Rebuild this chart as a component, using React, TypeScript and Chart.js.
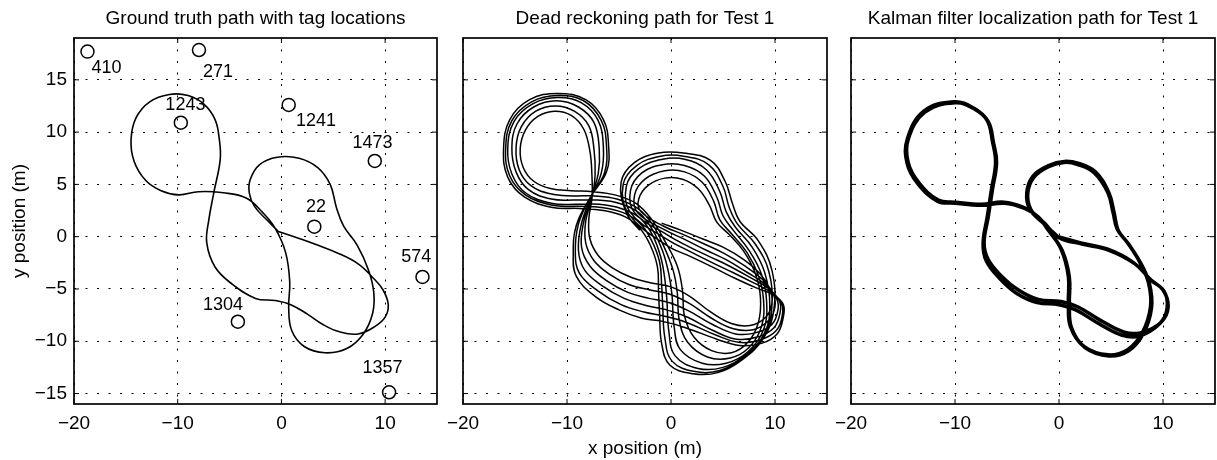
import { useEffect, useRef } from "react";
import { Chart, registerables } from "chart.js";

Chart.register(...registerables);

// ---------- axes ----------
const X_MIN = -20;
const X_MAX = 15;
const Y_MIN = -16;
const Y_MAX = 19;
const X_TICKS = [-20, -10, 0, 10];
const Y_TICKS = [-15, -10, -5, 0, 5, 10, 15];

const TITLES = [
  "Ground truth path with tag locations",
  "Dead reckoning path for Test 1",
  "Kalman filter localization path for Test 1",
];
const X_LABEL = "x position (m)";
const Y_LABEL = "y position (m)";

// ---------- tags (panel 1) ----------
const TAG_IDS = ["410", "271", "1243", "1241", "1473", "22", "574", "1304", "1357"];
const TAG_X = [-18.7, -7.95, -9.7, 0.7, 9.0, 3.17, 13.6, -4.2, 10.38];
const TAG_Y = [17.7, 17.85, 10.9, 12.6, 7.24, 0.96, -3.85, -8.13, -14.88];
const TAG_LABEL_X = [-16.86, -6.12, -9.26, 3.34, 8.78, 3.34, 13.0, -5.64, 9.74];
const TAG_LABEL_Y = [16.1, 15.78, 12.6, 11.1, 8.93, 2.81, -1.9, -6.53, -12.53];

// ---------- ground truth path ----------
const TRUTH_PATH: number[][] = [
  [-0.3, 0.5], [1.5, -0.1], [3.2, -0.7], [5.5, -1.6], [7.4, -2.6], [8.8, -3.9], [9.8, -5.1],
  [10.3, -6.5], [10.0, -7.7], [9.0, -8.6], [7.4, -9.3], [5.6, -9.1], [4.0, -8.4], [2.5, -7.4],
  [0.9, -6.5], [-0.6, -6.1], [-2.5, -5.9], [-4.8, -4.5], [-6.4, -2.9], [-7.2, -0.6], [-7.0, 1.6],
  [-6.5, 4.3], [-5.9, 7.4], [-6.0, 9.4], [-6.4, 11.2], [-7.5, 12.7], [-9.0, 13.5], [-10.8, 13.6],
  [-12.7, 12.9], [-14.0, 11.4], [-14.5, 9.3], [-14.2, 7.2], [-13.1, 5.4], [-11.6, 4.4], [-9.9, 4.0],
  [-8.0, 4.3], [-5.6, 4.2], [-3.4, 3.7], [-1.8, 2.3], [-0.6, 0.8], [0.4, -1.5], [0.8, -4.3],
  [0.7, -6.8], [1.0, -9.0], [2.2, -10.5], [4.2, -11.1], [6.3, -10.7], [7.9, -9.3], [8.8, -7.3],
  [8.9, -5.3], [8.4, -3.2], [7.3, -0.8], [6.0, 1.0], [5.3, 2.8], [4.7, 5.0], [3.5, 6.6],
  [1.7, 7.5], [-0.4, 7.6], [-2.1, 6.9], [-3.0, 5.5], [-3.1, 4.2], [-2.6, 2.9], [-1.3, 1.5],
  [-0.3, 0.5],
];

// ---------- dead reckoning laps ----------
const DR_LAP_1: number[][] = [
  [-0.9, 1.3], [1.0, 0.6], [3.0, -0.2], [5.0, -1.0], [7.0, -2.2], [8.6, -3.6], [9.5, -5.0], [9.7, -6.4],
  [9.1, -7.7], [7.6, -8.5], [5.8, -8.3], [3.8, -7.2], [1.8, -5.7], [0.0, -4.8],
  [-2.0, -4.4], [-3.8, -3.9], [-5.6, -3.0], [-7.0, -1.8],
  [-7.8, -0.2], [-7.9, 1.7], [-7.6, 3.7],
  [-7.6, 5.8], [-7.8, 8.2], [-8.4, 10.3], [-9.6, 11.6], [-11.2, 12.0], [-12.8, 11.5], [-14.0, 10.2],
  [-14.5, 8.4], [-14.2, 6.6], [-13.2, 5.3], [-11.6, 4.6], [-9.6, 4.4],
  [-7.5, 4.3], [-5.4, 4.0], [-3.4, 3.2], [-1.9, 1.7],
  [-0.6, -0.4], [0.6, -2.8], [1.1, -5.1], [1.3, -7.6], [2.2, -9.6], [3.9, -10.9], [5.8, -11.1], [7.4, -10.1], [8.4, -8.2],
  [8.6, -5.8], [8.1, -3.5], [7.0, -1.4], [5.6, 0.2], [4.4, 1.4],
  [3.7, 3.0], [2.6, 4.6], [1.1, 5.5], [-0.6, 5.6], [-2.2, 4.9], [-3.1, 3.6], [-2.9, 2.4],
];
const DR_LAP_2: number[][] = [
  [-0.7, 1.0], [1.2, 0.2], [3.2, -0.7], [5.1, -1.6], [7.1, -2.8], [8.8, -4.1], [9.8, -5.4], [10.0, -6.7],
  [9.4, -8.0], [7.9, -8.9], [6.0, -8.8], [3.9, -7.8], [1.8, -6.4], [-0.1, -5.5],
  [-2.0, -5.1], [-4.0, -4.6], [-5.9, -3.6], [-7.4, -2.3],
  [-8.2, -0.6], [-8.2, 1.5], [-7.6, 3.7],
  [-7.3, 5.9], [-7.4, 8.3], [-7.9, 10.6], [-9.3, 12.0], [-11.1, 12.5], [-13.0, 12.0], [-14.4, 10.5],
  [-14.9, 8.5], [-14.6, 6.4], [-13.5, 4.9], [-11.6, 4.1], [-9.4, 3.9],
  [-7.4, 3.9], [-5.2, 3.6], [-3.2, 2.7], [-1.8, 1.2],
  [-0.7, -0.9], [0.2, -3.2], [0.6, -5.3], [0.8, -8.0], [1.6, -10.1], [3.5, -11.5], [5.7, -11.6], [7.5, -10.6], [8.7, -8.6],
  [8.9, -6.1], [8.4, -3.7], [7.3, -1.5], [5.8, 0.3], [4.7, 1.6],
  [4.1, 3.4], [3.0, 5.2], [1.3, 6.2], [-0.6, 6.3], [-2.5, 5.5], [-3.5, 4.0], [-3.2, 2.3],
];
const DR_LAP_3: number[][] = [
  [-0.5, 0.6], [1.4, -0.3], [3.4, -1.3], [5.3, -2.2], [7.3, -3.4], [9.0, -4.5], [10.1, -5.8], [10.3, -6.9],
  [9.7, -8.4], [8.1, -9.2], [6.2, -9.3], [4.0, -8.4], [1.7, -7.1], [-0.2, -6.3],
  [-2.1, -5.9], [-4.2, -5.3], [-6.2, -4.2], [-7.8, -2.8],
  [-8.6, -1.0], [-8.4, 1.4], [-7.7, 3.7],
  [-7.0, 6.0], [-6.9, 8.4], [-7.4, 10.9], [-8.9, 12.4], [-11.0, 13.0], [-13.2, 12.4], [-14.8, 10.8],
  [-15.3, 8.5], [-14.9, 6.2], [-13.7, 4.5], [-11.5, 3.6], [-9.2, 3.5],
  [-7.1, 3.5], [-5.0, 3.2], [-3.1, 2.3], [-1.8, 0.7],
  [-0.8, -1.4], [-0.2, -3.6], [0.1, -5.6], [0.3, -8.6], [0.9, -10.8], [3.0, -12.1], [5.3, -12.1], [7.4, -11.0], [8.9, -8.9],
  [9.2, -6.3], [8.7, -3.6], [7.5, -1.3], [6.0, 0.6], [5.0, 2.0],
  [4.4, 3.8], [3.2, 5.8], [1.3, 6.8], [-0.7, 6.9], [-2.8, 6.1], [-3.9, 4.4], [-3.5, 2.3],
];
const DR_LAP_4: number[][] = [
  [-0.4, 0.2], [1.6, -0.9], [3.7, -1.9], [5.6, -2.8], [7.6, -3.9], [9.3, -4.9], [10.4, -6.1], [10.5, -7.2],
  [9.9, -8.7], [8.3, -9.6], [6.3, -9.8], [4.1, -9.0], [1.6, -7.7], [-0.4, -7.0],
  [-2.3, -6.6], [-4.5, -5.9], [-6.6, -4.7], [-8.3, -3.2],
  [-8.9, -1.3], [-8.6, 1.3], [-7.7, 3.7],
  [-6.7, 6.1], [-6.5, 8.5], [-7.0, 11.1], [-8.6, 12.8], [-10.9, 13.3], [-13.3, 12.7], [-15.1, 11.0],
  [-15.7, 8.4], [-15.3, 6.0], [-14.0, 4.2], [-11.5, 3.2], [-9.0, 3.1],
  [-6.9, 3.1], [-4.8, 2.7], [-3.0, 1.8], [-1.8, 0.2],
  [-1.0, -1.9], [-0.6, -4.0], [-0.4, -6.0], [-0.2, -9.1], [0.4, -11.4], [2.6, -12.6], [5.0, -12.5], [7.2, -11.3], [9.0, -9.2],
  [9.5, -6.5], [9.0, -3.4], [7.8, -1.0], [6.2, 0.9], [5.3, 2.4],
  [4.7, 4.3], [3.4, 6.4], [1.3, 7.4], [-0.8, 7.4], [-3.1, 6.5], [-4.3, 4.8], [-3.9, 2.3],
];
const DR_LAP_5: number[][] = [
  [-0.3, -0.3], [1.8, -1.4], [4.0, -2.5], [5.9, -3.4], [7.9, -4.4], [9.6, -5.3], [10.6, -6.3], [10.7, -7.5],
  [10.1, -9.0], [8.5, -9.9], [6.5, -10.1], [4.3, -9.4], [1.5, -8.2], [-0.6, -7.6],
  [-2.6, -7.2], [-4.8, -6.5], [-7.0, -5.2], [-8.8, -3.5],
  [-9.2, -1.5], [-8.9, 1.2], [-7.8, 3.7],
  [-6.4, 6.1], [-6.2, 8.6], [-6.7, 11.1], [-8.4, 13.0], [-10.9, 13.5], [-13.4, 12.9], [-15.3, 11.1],
  [-15.9, 8.4], [-15.5, 5.8], [-14.0, 4.0], [-11.4, 3.0], [-8.9, 2.9],
  [-6.7, 2.8], [-4.6, 2.3], [-3.0, 1.3], [-1.9, -0.3],
  [-1.1, -2.4], [-0.9, -4.6], [-0.8, -6.6], [-0.6, -9.6], [0.1, -11.9], [2.3, -12.9], [4.7, -12.8], [7.0, -11.5], [9.0, -9.4],
  [9.7, -6.7], [9.4, -3.3], [8.1, -0.7], [6.4, 1.2], [5.6, 2.8],
  [5.0, 4.8], [3.6, 6.9], [1.2, 7.7], [-1.0, 7.7], [-3.3, 6.8], [-4.6, 5.0], [-4.1, 2.2],
];
const DR_LAP_6: number[][] = [
  [-0.3, -0.9], [1.9, -1.9], [4.2, -3.0], [6.2, -4.0], [8.2, -4.9], [9.9, -5.6], [10.8, -6.5], [10.8, -7.7],
  [10.2, -9.3], [8.7, -10.2], [6.6, -10.4], [4.4, -9.8], [1.4, -8.7], [-0.8, -8.1],
  [-2.8, -7.8], [-5.0, -7.0], [-7.3, -5.7], [-9.1, -3.8],
  [-9.4, -1.7], [-9.1, 1.1], [-7.8, 3.7],
  [-6.2, 6.2], [-6.0, 8.7], [-6.5, 11.2], [-8.2, 13.1], [-10.9, 13.7], [-13.6, 13.1], [-15.5, 11.2],
  [-16.1, 8.4], [-15.7, 5.7], [-14.1, 3.8], [-11.4, 2.8], [-8.8, 2.7],
  [-6.5, 2.5], [-4.4, 1.9], [-3.0, 0.8], [-2.0, -0.8],
  [-1.3, -2.9], [-1.2, -5.2], [-1.1, -7.3], [-0.9, -10.2], [-0.1, -12.3], [2.1, -13.1], [4.5, -13.0], [6.8, -11.8], [8.9, -9.7],
  [9.9, -6.9], [9.7, -3.2], [8.4, -0.4], [6.6, 1.5], [5.9, 3.2],
  [5.2, 5.3], [3.8, 7.3], [1.2, 8.0], [-1.2, 8.0], [-3.5, 7.1], [-4.8, 5.2], [-4.3, 2.3], [-3.0, 0.6],
];

// ---------- Kalman filter laps ----------
const KF_LAP_1: number[][] = [
  [-0.1, 0.0], [2.1, -0.6], [4.7, -1.2], [7.2, -2.5], [8.8, -4.1], [10.0, -5.1], [10.5, -6.7],
  [9.8, -8.2], [7.8, -9.2], [6.2, -9.1], [4.0, -8.0], [1.8, -6.7], [0.2, -6.2], [-2.0, -6.0],
  [-3.9, -5.1], [-5.5, -3.8], [-6.8, -2.2], [-7.2, -0.6], [-6.8, 1.9], [-6.4, 4.5], [-6.0, 7.1],
  [-6.3, 9.0], [-6.8, 11.0], [-8.1, 12.2], [-10.0, 12.8], [-12.9, 11.9], [-14.5, 9.3], [-14.5, 7.1],
  [-13.5, 5.2], [-11.6, 3.5], [-10.0, 3.3], [-7.5, 3.1], [-5.3, 3.3], [-3.4, 2.8], [-2.0, 1.9],
  [-1.1, 0.7], [0.2, -1.2], [0.9, -3.8], [0.9, -6.3], [1.1, -8.6], [2.4, -10.5], [4.7, -11.3],
  [6.6, -10.8], [8.0, -9.2], [8.8, -6.7], [8.6, -4.4], [7.8, -2.5], [6.6, -0.6], [5.6, 0.7],
  [5.2, 2.3], [4.7, 4.2], [3.4, 6.1], [1.8, 6.9], [0.5, 7.1], [-1.0, 6.7], [-2.4, 5.7],
  [-3.0, 4.2], [-2.7, 2.6], [-1.4, 1.3],
];
const KF_LAP_2: number[][] = [
  [0.0, -0.1], [2.2, -0.7], [4.8, -1.3], [7.3, -2.6], [8.9, -4.2], [10.1, -5.2], [10.4, -6.8],
  [9.7, -8.3], [7.7, -9.5], [6.0, -9.4], [3.8, -8.3], [1.6, -7.0], [0.0, -6.5], [-2.1, -6.3],
  [-4.1, -5.4], [-5.7, -4.0], [-7.0, -2.3], [-7.3, -0.6], [-6.9, 1.9], [-6.5, 4.5], [-6.1, 7.1],
  [-6.4, 9.1], [-6.9, 11.1], [-8.2, 12.3], [-10.1, 12.9], [-13.0, 12.0], [-14.6, 9.3], [-14.6, 7.0],
  [-13.6, 5.1], [-11.7, 3.4], [-10.0, 3.2], [-7.5, 3.0], [-5.3, 3.2], [-3.3, 2.7], [-1.9, 1.8],
  [-1.0, 0.6], [0.3, -1.3], [1.0, -3.9], [1.0, -6.4], [1.2, -8.7], [2.5, -10.6], [4.8, -11.4],
  [6.7, -10.9], [8.1, -9.3], [8.9, -6.8], [8.7, -4.5], [7.9, -2.6], [6.7, -0.7], [5.7, 0.6],
  [5.3, 2.3], [4.8, 4.2], [3.5, 6.2], [1.9, 7.0], [0.5, 7.2], [-1.0, 6.8], [-2.5, 5.8],
  [-3.1, 4.2], [-2.8, 2.6], [-1.4, 1.2], [0.0, -0.1],
];

const DR_PATH = [...DR_LAP_1, ...DR_LAP_2, ...DR_LAP_3, ...DR_LAP_4, ...DR_LAP_5, ...DR_LAP_6];
const KF_PATH = [...KF_LAP_1, ...KF_LAP_2];

const FONT = "'Liberation Sans', Arial, Helvetica, sans-serif";
const fmt = (v: number) => String(v).replace("-", "\u2212");
const toXY = (p: number[][]) => p.map(([x, y]) => ({ x, y }));

const framePlugin = {
  id: "frame",
  afterDraw(chart: any) {
    const { ctx, chartArea: a, scales } = chart;
    const xs = scales.x;
    const ys = scales.y;
    ctx.save();
    ctx.strokeStyle = "#000";
    ctx.lineWidth = 1;
    const L = 5;
    ctx.beginPath();
    X_TICKS.forEach((v) => {
      const px = xs.getPixelForValue(v);
      ctx.moveTo(px, a.bottom);
      ctx.lineTo(px, a.bottom - L);
      ctx.moveTo(px, a.top);
      ctx.lineTo(px, a.top + L);
    });
    Y_TICKS.forEach((v) => {
      const py = ys.getPixelForValue(v);
      ctx.moveTo(a.left, py);
      ctx.lineTo(a.left + L, py);
      ctx.moveTo(a.right, py);
      ctx.lineTo(a.right - L, py);
    });
    ctx.stroke();
    ctx.lineWidth = 1.7;
    ctx.strokeRect(a.left, a.top, a.right - a.left, a.bottom - a.top);
    ctx.restore();
  },
};

const tagLabelPlugin = {
  id: "tagLabels",
  afterDatasetsDraw(chart: any) {
    const { ctx, scales } = chart;
    ctx.save();
    ctx.fillStyle = "#000";
    ctx.font = `18px ${FONT}`;
    ctx.textAlign = "center";
    ctx.textBaseline = "middle";
    TAG_IDS.forEach((id, i) => {
      ctx.fillText(id, scales.x.getPixelForValue(TAG_LABEL_X[i]), scales.y.getPixelForValue(TAG_LABEL_Y[i]));
    });
    ctx.restore();
  },
};

type PanelSpec = {
  left: number;
  width: number;
  yAxisW: number;
  rightPad: number;
  index: number;
};

const PANELS: PanelSpec[] = [
  { left: 0, width: 445, yAxisW: 74, rightPad: 7, index: 0 },
  { left: 425, width: 415, yAxisW: 38, rightPad: 13, index: 1 },
  { left: 811, width: 406, yAxisW: 40, rightPad: 2, index: 2 },
];

function makeConfig(p: PanelSpec): any {
  const i = p.index;
  let datasets: any[] = [];
  const lineBase = {
    showLine: true,
    pointRadius: 0,
    borderColor: "#000",
    backgroundColor: "#000",
    tension: 0.4,
    fill: false,
  };
  if (i === 0) {
    datasets = [
      { ...lineBase, data: toXY(TRUTH_PATH), borderWidth: 1.6 },
      {
        data: TAG_X.map((x, k) => ({ x, y: TAG_Y[k] })),
        showLine: false,
        pointStyle: "circle",
        pointRadius: 6.5,
        pointBorderWidth: 1.5,
        pointBorderColor: "#000",
        pointBackgroundColor: "rgba(0,0,0,0)",
      },
    ];
  } else if (i === 1) {
    datasets = [{ ...lineBase, data: toXY(DR_PATH), borderWidth: 1.5 }];
  } else {
    datasets = [{ ...lineBase, data: toXY(KF_PATH), borderWidth: 3.5 }];
  }
  return {
    type: "scatter",
    data: { datasets },
    plugins: i === 0 ? [framePlugin, tagLabelPlugin] : [framePlugin],
    options: {
      responsive: false,
      animation: false,
      events: [],
      layout: { padding: { left: 0, right: p.rightPad, top: 0, bottom: 0 } },
      plugins: {
        legend: { display: false },
        tooltip: { enabled: false },
        title: {
          display: true,
          text: TITLES[i],
          fullSize: false,
          color: "#000",
          font: { size: 19, weight: "normal", family: FONT },
          padding: { top: 7, bottom: 8.2 },
        },
      },
      scales: {
        x: {
          type: "linear",
          min: X_MIN,
          max: X_MAX,
          afterBuildTicks: (s: any) => {
            s.ticks = X_TICKS.map((v) => ({ value: v }));
          },
          afterFit: (s: any) => {
            s.height = 56;
          },
          grid: { color: "#000", lineWidth: 1, drawTicks: false },
          border: { display: false, dash: [2, 9.5] },
          ticks: {
            padding: 8,
            color: "#000",
            font: { size: 19, family: FONT },
            maxRotation: 0,
            autoSkip: false,
            callback: (v: any) => fmt(v),
          },
          title: {
            display: i === 1,
            text: X_LABEL,
            color: "#000",
            font: { size: 19, family: FONT },
            padding: { top: 0, bottom: 0 },
          },
        },
        y: {
          type: "linear",
          min: Y_MIN,
          max: Y_MAX,
          afterBuildTicks: (s: any) => {
            s.ticks = Y_TICKS.map((v) => ({ value: v }));
          },
          afterFit: (s: any) => {
            s.width = p.yAxisW;
          },
          grid: { color: "#000", lineWidth: 1, drawTicks: false },
          border: { display: false, dash: [2, 9.5] },
          ticks: {
            display: i === 0,
            padding: 7,
            color: "#000",
            font: { size: 19, family: FONT },
            autoSkip: false,
            callback: (v: any) => fmt(v),
          },
          title: {
            display: i === 0,
            text: Y_LABEL,
            color: "#000",
            font: { size: 19, family: FONT },
            padding: { top: 8, bottom: 0 },
          },
        },
      },
    },
  };
}

export default function App() {
  const r0 = useRef<HTMLCanvasElement>(null);
  const r1 = useRef<HTMLCanvasElement>(null);
  const r2 = useRef<HTMLCanvasElement>(null);

  useEffect(() => {
    const refs = [r0, r1, r2];
    const charts = PANELS.map((p, k) => new Chart(refs[k].current as HTMLCanvasElement, makeConfig(p)));
    return () => charts.forEach((c) => c.destroy());
  }, []);

  const refs = [r0, r1, r2];
  return (
    <div style={{ position: "absolute", left: 0, top: 0, width: 1217, height: 460, background: "#fff", overflow: "hidden" }}>
      {PANELS.map((p, k) => (
        <canvas
          key={k}
          ref={refs[k]}
          width={p.width}
          height={460}
          style={{ position: "absolute", left: p.left, top: 0, width: p.width, height: 460 }}
        />
      ))}
    </div>
  );
}
